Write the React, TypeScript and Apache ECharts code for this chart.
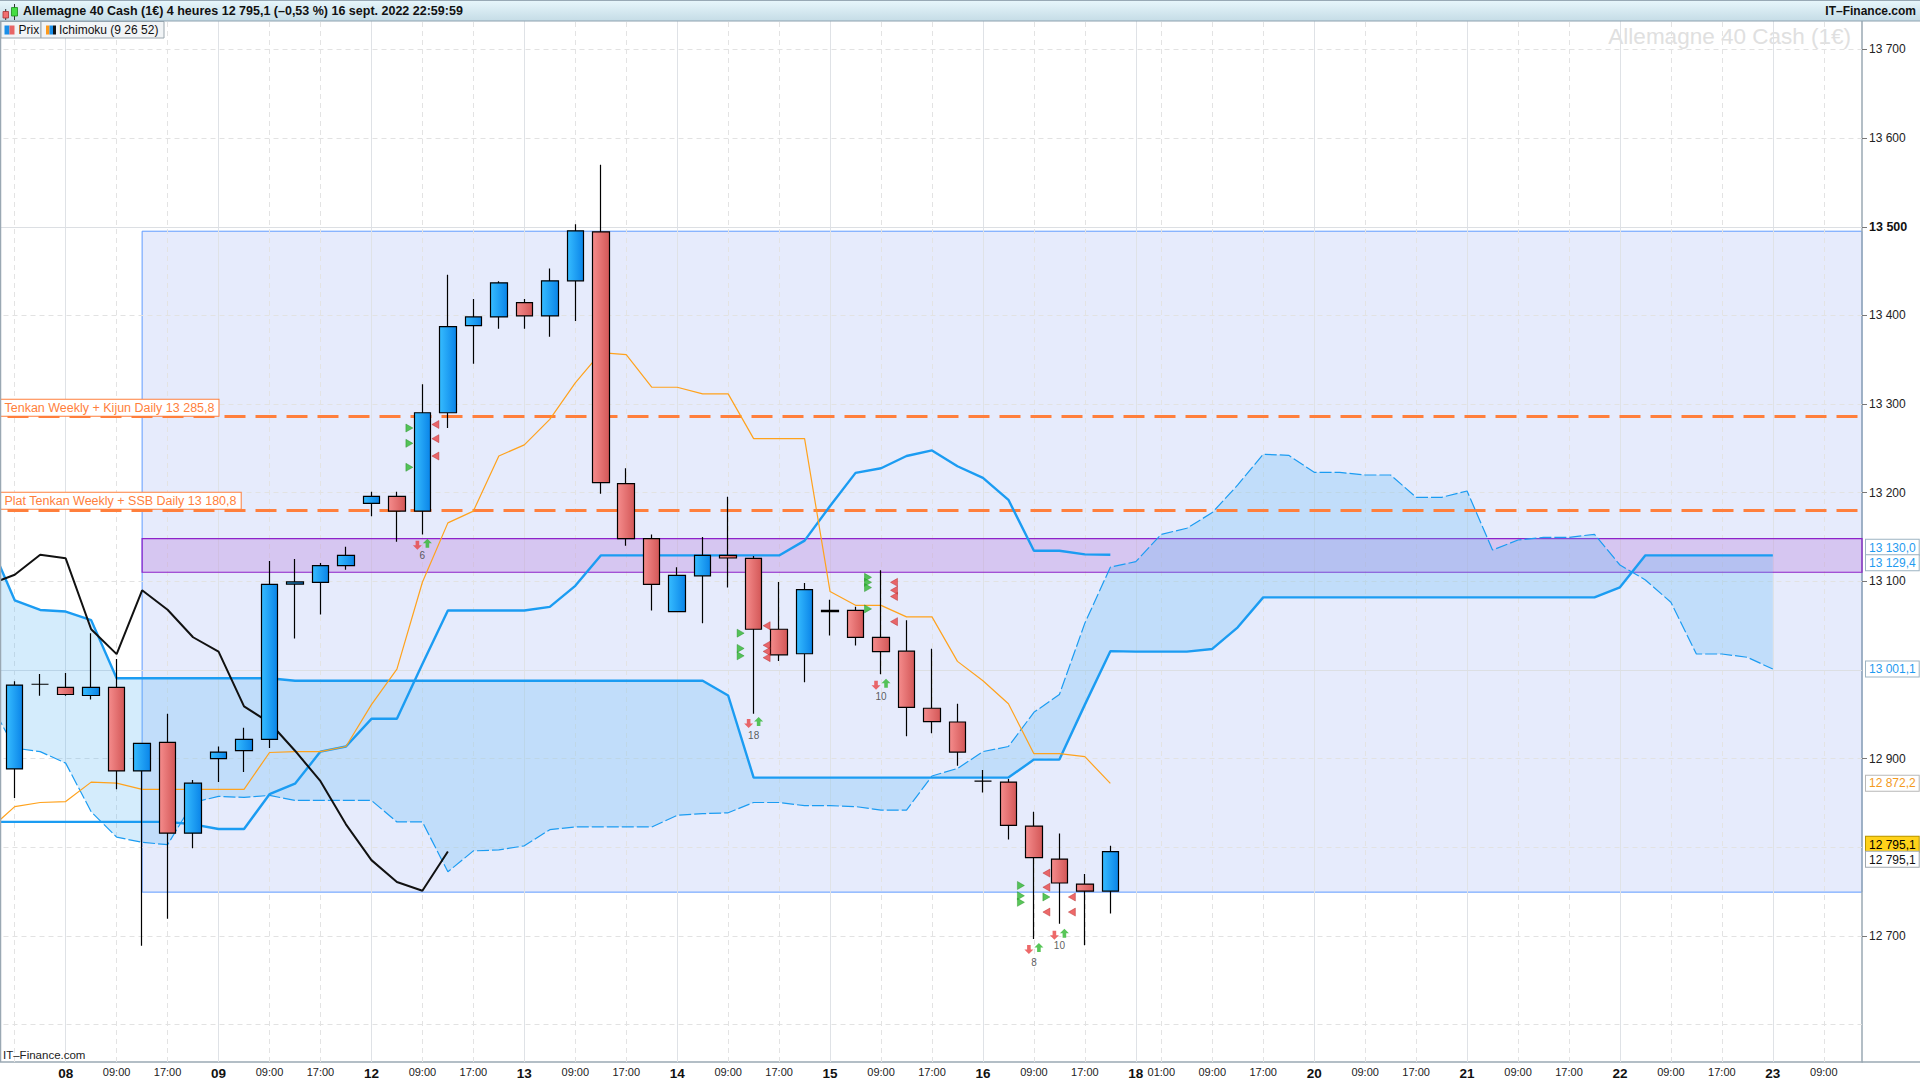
import React, { useEffect, useRef } from 'react';
import * as echarts from 'echarts';

const FONT = '"Liberation Sans", Arial, Helvetica, sans-serif';

// ---- axes -------------------------------------------------------------
// 4-hour bar slots, from -1 (just left of the frame) to 72 (right edge)
const FIRST_IDX = -1;
const LAST_IDX = 72;
const X_LABELS: [number, string][] = [
  [2, '08'], [4, '09:00'], [6, '17:00'], [8, '09'], [10, '09:00'], [12, '17:00'],
  [14, '12'], [16, '09:00'], [18, '17:00'], [20, '13'], [22, '09:00'], [24, '17:00'],
  [26, '14'], [28, '09:00'], [30, '17:00'], [32, '15'], [34, '09:00'], [36, '17:00'],
  [38, '16'], [40, '09:00'], [42, '17:00'], [44, '18'], [45, '01:00'], [47, '09:00'],
  [49, '17:00'], [51, '20'], [53, '09:00'], [55, '17:00'], [57, '21'], [59, '09:00'],
  [61, '17:00'], [63, '22'], [65, '09:00'], [67, '17:00'], [69, '23'], [71, '09:00'],
];
const DAY_LABELS = ['08', '09', '12', '13', '14', '15', '16', '18', '20', '21', '22', '23'];
const EXTRA_DASHED_SLOTS = [0];

const Y_MIN = 12557.9;
const Y_MAX = 13732.1;
const Y_LABELS = [12700, 12900, 13100, 13200, 13300, 13400, 13500, 13600, 13700];
const Y_GRID = [12600, 12700, 12800, 12900, 13000, 13100, 13200, 13300, 13400, 13500, 13600, 13700];
const Y_GRID_SOLID = [13000, 13500];

// ---- candles (slots 0..43) --------------------------------------------
const OPEN = [12888.5, 12984, 12980.5, 12971.3, 12980.5, 12886.2, 12918.4, 12816, 12900, 12909.2,
  12921.8, 13097, 13098.9, 13117.8, 13188, 13196, 13179.3, 13290.2, 13388.5, 13398.3,
  13414.4, 13399.4, 13439, 13494.3, 13210.3, 13148.3, 13066, 13106.3, 13129.3, 13125.9,
  13046, 13018.4, 13066, 13067.2, 13036.8, 13021.3, 12956.9, 12941.4, 12874.7, 12873.6,
  12824, 12786.8, 12758.6, 12750.6];
const CLOSE = [12983, 12984, 12972.4, 12980.5, 12886.2, 12917.2, 12816, 12872.4, 12907.5, 12921.8,
  13096.6, 13099.4, 13117.8, 13129.3, 13196, 13179.3, 13290.2, 13387.4, 13398.3, 13436.8,
  13399.4, 13439, 13495.4, 13211.5, 13148.3, 13096.6, 13106.9, 13129.3, 13126.4, 13046,
  13017.2, 13090.8, 13067.2, 13036.8, 13020.7, 12958, 12941.9, 12907.5, 12874.7, 12824.7,
  12788.5, 12759.8, 12750.6, 12795.1];
const LOW = [12855.8, 12971, 12971, 12966.7, 12865.5, 12689, 12719.5, 12798.9, 12873.6, 12885,
  12912, 13035.6, 13062.6, 13113, 13173.6, 13144.8, 13152.9, 13273, 13345.4, 13385,
  13385, 13375.9, 13393.7, 13198.9, 13140.2, 13067.2, 13066, 13052.9, 13093, 12950.6,
  13010.3, 12986.2, 13039, 13027.6, 12995.4, 12925.3, 12928.7, 12892, 12862, 12809,
  12696.6, 12713.8, 12689.7, 12725.3];
const HIGH = [12987.4, 12995.5, 12996.6, 13041.4, 13012.6, 12918, 12950.6, 12875.9, 12913.8, 12935,
  13123, 13125.3, 13120.7, 13139, 13201, 13201, 13322.4, 13446, 13418.4, 13438.5,
  13418.4, 13452.9, 13502.9, 13570, 13227.6, 13152.9, 13116, 13150, 13195.4, 13128.7,
  13099.4, 13098.3, 13079.3, 13071.3, 13112.6, 13056.3, 13024.1, 12962, 12887.4, 12877,
  12840.2, 12815.5, 12770, 12801.7];

// ---- Ichimoku (9 26 52), from slot -1 ----------------------------------
const TENKAN = [12820, 12846, 12850.6, 12851.7, 12873.6, 12872.4, 12865.5, 12865.5, 12865.5, 12865.5,
  12865.5, 12907, 12908, 12908, 12913.8, 12961, 13001, 13099, 13166, 13179.3,
  13241.4, 13254, 13282.8, 13324, 13358, 13355.7, 13319, 13319, 13311.5, 13311.5,
  13261, 13261, 13261, 13088.5, 13073, 13073, 13060, 13060, 13009.8, 12988,
  12962, 12905.7, 12905.7, 12902.3, 12872.2];
const KIJUN = [12828.7, 12828.7, 12828.7, 12828.7, 12828.7, 12828.7, 12828.7, 12828.7, 12826, 12820.7,
  12820.7, 12860, 12871.8, 12908, 12913.8, 12945, 12945, 13006.9, 13067.2, 13067.2,
  13067.2, 13067.2, 13071.3, 13095, 13129.3, 13129.3, 13129.3, 13129.3, 13129.3, 13129.3,
  13129.3, 13129.3, 13146, 13185, 13222.4, 13227.6, 13241.4, 13247.7, 13229.9, 13216.7,
  13192, 13134.5, 13134.5, 13130.5, 13130];
const CHIKOU = [13096.6, 13107.5, 13130, 13126, 13046, 13018, 13090, 13068, 13037, 13020.7,
  12959, 12940.8, 12909, 12874.7, 12826, 12785.6, 12761, 12751, 12795.4];
const SPAN_A = [12965, 12912, 12908, 12895, 12840.2, 12811.5, 12805.7, 12803, 12850.6, 12857.5,
  12856.3, 12858.6, 12852.9, 12852.9, 12852.9, 12852.9, 12828.7, 12828.7, 12772.4, 12796,
  12797.1, 12801.7, 12820, 12823, 12823, 12823, 12823, 12836.2, 12838, 12839,
  12850.6, 12850.6, 12847, 12847, 12846, 12842, 12842, 12880.5, 12889, 12908,
  12913.8, 12952.3, 12972.4, 13052.9, 13116, 13122.3, 13153.1, 13159.9, 13177.6, 13208.8,
  13243.4, 13242.2, 13223, 13223, 13220, 13220, 13194.8, 13194.8, 13202, 13135.4,
  13146.7, 13149.7, 13149.7, 13153.1, 13118.5, 13101.6, 13076.4, 13018.1, 13018.1, 13014.4,
  13001.1];
const SPAN_B = [13145, 13078.7, 13067.8, 13066, 13056.3, 12990.8, 12990.8, 12990.8, 12990.8, 12990.8,
  12990.8, 12990.8, 12988, 12988, 12988, 12988, 12988, 12988, 12988, 12988,
  12988, 12988, 12988, 12988, 12988, 12988, 12988, 12988, 12988, 12971.3,
  12878.7, 12878.7, 12878.7, 12878.7, 12878.7, 12878.7, 12878.7, 12878.7, 12878.7, 12878.7,
  12878.7, 12899, 12899, 12961, 13021.3, 13020.8, 13020.8, 13020.8, 13023.8, 13048.2,
  13082, 13082, 13082, 13082, 13082, 13082, 13082, 13082, 13082, 13082,
  13082, 13082, 13082, 13082, 13093.3, 13129.4, 13129.4, 13129.4, 13129.4, 13129.4,
  13129.4];

// ---- drawings ----------------------------------------------------------
const ZONE_START = 5;
const ZONE_TOP = 13495;
const ZONE_BOTTOM = 12749.5;
const BAND_TOP = 13148.3;
const BAND_BOTTOM = 13110.3;
const LEVELS = [13285.8, 13180.8];
const LEVEL_NAMES = ['Tenkan Weekly + Kijun Daily', 'Plat Tenkan Weekly + SSB Daily'];

// ---- signals [slot, value] ---------------------------------------------
const GREEN_LEFT: [number, number][] = [[16, 13273], [16, 13255.7], [16, 13228.7], [29, 13041.6], [29, 13024.4],
  [29, 13016], [34, 13104.6], [34, 13098.9], [34, 13093], [34, 13069], [40, 12757], [40, 12745.4],
  [40, 12738], [41, 12744]];
const RED_RIGHT: [number, number][] = [[16, 13277], [16, 13261], [16, 13241.4], [29, 13050], [29, 13028],
  [29, 13021], [29, 13014], [34, 13098.9], [34, 13090], [34, 13083], [34, 13054.6]];
const RED_LEFT: [number, number][] = [[41, 12771], [41, 12755], [41, 12727], [42, 12744], [42, 12727]];
const ARROWS: [number, number][] = [[16, 13142], [29, 12940.8], [34, 12984], [40, 12686], [41, 12702]];
const COUNTS: [number, number, string][] = [[16, 13128.7, '6'], [29, 12926, '18'], [34, 12970.7, '10'],
  [40, 12670, '8'], [41, 12689, '10']];

// ---- right-hand value tags ----------------------------------------------
const TAG_VALUES = [13130.0, 13129.4, 13001.1, 12872.2, 12795.1, 12795.1];
const TAG_STYLES = [
  { color: '#1f9bf0', bg: '#ffffff', border: '#9db3c2', va: 'bottom' },
  { color: '#1f9bf0', bg: '#ffffff', border: '#9db3c2', va: 'top' },
  { color: '#1f9bf0', bg: '#ffffff', border: '#9db3c2', va: 'middle' },
  { color: '#f39a1e', bg: '#ffffff', border: '#b8b8b8', va: 'middle' },
  { color: '#000000', bg: '#ffd21a', border: '#b89500', va: 'bottom' },
  { color: '#111111', bg: '#ffffff', border: '#a0a8ae', va: 'top' },
];

const ci = (idx: number) => idx - FIRST_IDX;
const CATS = Array.from({ length: LAST_IDX - FIRST_IDX + 1 }, (_, k) => String(k + FIRST_IDX));

function fmt(v: number, d: number): string {
  const s = v.toFixed(d);
  const [i, f] = s.split('.');
  const ii = i.replace(/\B(?=(\d{3})+(?!\d))/g, ' ');
  return f !== undefined ? ii + ',' + f : ii;
}

function buildOption(): any {
  const labelMap: Record<number, string> = {};
  X_LABELS.forEach(([i, t]) => (labelMap[i] = t));

  const vLines: any[] = [];
  X_LABELS.forEach(([i, t]) => {
    const day = DAY_LABELS.includes(t);
    vLines.push({
      xAxis: ci(i),
      lineStyle: day
        ? { color: '#dfe2e6', width: 1, type: 'solid' }
        : { color: '#e3e3e3', width: 1, type: [5, 4] },
    });
  });
  EXTRA_DASHED_SLOTS.forEach((i) =>
    vLines.push({ xAxis: ci(i), lineStyle: { color: '#e3e3e3', width: 1, type: [5, 4] } })
  );
  const hLines = Y_GRID.map((v) => ({
    yAxis: v,
    lineStyle: Y_GRID_SOLID.includes(v)
      ? { color: '#dcdfe3', width: 1, type: 'solid' }
      : { color: '#e2e2e2', width: 1, type: [5, 4] },
  }));

  const candleData: any[] = ['-'];
  OPEN.forEach((o, i) => candleData.push([o, CLOSE[i], LOW[i], HIGH[i]]));

  const upGrad = new echarts.graphic.LinearGradient(0, 0, 1, 0, [
    { offset: 0, color: '#36bcff' },
    { offset: 1, color: '#0a84e8' },
  ]);
  const downGrad = new echarts.graphic.LinearGradient(0, 0, 1, 0, [
    { offset: 0, color: '#f58c8c' },
    { offset: 1, color: '#d35757' },
  ]);

  const xy = (arr: [number, number][]) => arr.map(([i, v]) => [ci(i), v]);

  const series: any[] = [
    {
      type: 'custom',
      name: 'zone',
      z: 0,
      silent: true,
      clip: true,
      data: [[ci(ZONE_START), ZONE_TOP]],
      renderItem: (params: any, api: any) => {
        const cs = params.coordSys;
        const p1 = api.coord([ci(ZONE_START), ZONE_TOP]);
        const p2 = api.coord([ci(ZONE_START), ZONE_BOTTOM]);
        return {
          type: 'rect',
          shape: { x: p1[0], y: p1[1], width: cs.x + cs.width - p1[0], height: p2[1] - p1[1] },
          style: { fill: 'rgba(120,150,240,0.19)', stroke: '#5f9bff', lineWidth: 1 },
        };
      },
      markLine: {
        z: 1,
        silent: true,
        symbol: ['none', 'none'],
        label: { show: false },
        animation: false,
        data: [...vLines, ...hLines],
      },
    },
    {
      type: 'custom',
      name: 'band',
      z: 2,
      silent: true,
      clip: true,
      data: [[ci(ZONE_START), BAND_TOP]],
      renderItem: (params: any, api: any) => {
        const cs = params.coordSys;
        const p1 = api.coord([ci(ZONE_START), BAND_TOP]);
        const p2 = api.coord([ci(ZONE_START), BAND_BOTTOM]);
        return {
          type: 'rect',
          shape: { x: p1[0], y: p1[1], width: cs.x + cs.width - p1[0], height: p2[1] - p1[1] },
          style: { fill: 'rgba(179,122,219,0.32)', stroke: '#8e22c9', lineWidth: 1.2 },
        };
      },
    },
    {
      type: 'custom',
      name: 'kumo',
      z: 3,
      silent: true,
      clip: true,
      data: [[0, SPAN_A[0]]],
      renderItem: (params: any, api: any) => {
        const pts: number[][] = [];
        for (let i = 0; i < SPAN_A.length; i++) pts.push(api.coord([i, SPAN_A[i]]));
        for (let i = SPAN_B.length - 1; i >= 0; i--) pts.push(api.coord([i, SPAN_B[i]]));
        return { type: 'polygon', shape: { points: pts }, style: { fill: 'rgba(90,180,245,0.26)' } };
      },
    },
    {
      type: 'line', name: 'SSB', z: 4, data: SPAN_B, symbol: 'none', silent: true,
      lineStyle: { color: '#1b9cf2', width: 2.4 },
    },
    {
      type: 'line', name: 'SSA', z: 4, data: SPAN_A, symbol: 'none', silent: true,
      lineStyle: { color: '#1b9cf2', width: 1.2, type: [12, 3] },
    },
    {
      type: 'line', name: 'Kijun', z: 4, data: KIJUN, symbol: 'none', silent: true,
      lineStyle: { color: '#1b9cf2', width: 2.4 },
    },
    {
      type: 'line', name: 'Tenkan', z: 4, data: TENKAN, symbol: 'none', silent: true,
      lineStyle: { color: '#ffa21c', width: 1.2 },
      markLine: {
        z: 4,
        silent: true,
        symbol: ['none', 'none'],
        animation: false,
        lineStyle: { color: '#ff7f3c', width: 3, type: [21, 10] },
        label: {
          show: true,
          position: 'insideStartTop',
          distance: [24, 1],
          color: '#ff7f3c',
          fontSize: 12.5,
          fontFamily: FONT,
          backgroundColor: '#ffffff',
          borderColor: '#ff7f3c',
          borderWidth: 1,
          padding: [2, 4, 1, 4],
        },
        data: LEVELS.map((v, k) => ({
          yAxis: v,
          label: { formatter: LEVEL_NAMES[k] + ' ' + fmt(v, 1) },
        })),
      },
    },
    {
      type: 'line', name: 'Chikou', z: 4, data: CHIKOU, symbol: 'none', silent: true,
      lineStyle: { color: '#111111', width: 2 },
    },
    {
      type: 'candlestick',
      name: 'Prix',
      z: 5,
      silent: true,
      barWidth: 17,
      data: candleData,
      itemStyle: {
        color: upGrad,
        color0: downGrad,
        borderColor: '#000000',
        borderColor0: '#000000',
        borderColorDoji: '#000000',
        borderWidth: 1.2,
      },
    },
    {
      type: 'line',
      name: 'tags',
      z: 7,
      clip: false,
      silent: true,
      symbol: 'none',
      data: [],
      markLine: {
        z: 7,
        silent: true,
        symbol: ['none', 'none'],
        animation: false,
        lineStyle: { color: 'rgba(255,255,255,0)', width: 1, opacity: 1 },
        data: TAG_VALUES.map((v, k) => ({
          yAxis: v,
          label: {
            show: true,
            position: 'end',
            distance: 4,
            opacity: 1,
            formatter: fmt(v, 1),
            color: TAG_STYLES[k].color,
            backgroundColor: TAG_STYLES[k].bg,
            borderColor: TAG_STYLES[k].border,
            borderWidth: 1,
            padding: [2, 3, 1, 3],
            fontSize: 12,
            fontFamily: FONT,
            verticalAlign: TAG_STYLES[k].va,
          },
        })),
      },
    },
    {
      type: 'scatter', z: 6, silent: true, data: xy(GREEN_LEFT),
      symbol: 'path://M0,0L8,4.5L0,9Z', symbolSize: [7, 8], symbolOffset: [-13, 0],
      itemStyle: { color: '#2eb82e', borderColor: '#1b8a1b', borderWidth: 0.5 },
    },
    {
      type: 'scatter', z: 6, silent: true, data: xy(RED_RIGHT),
      symbol: 'path://M8,0L0,4.5L8,9Z', symbolSize: [7, 8], symbolOffset: [13, 0],
      itemStyle: { color: '#e84444', borderColor: '#b02020', borderWidth: 0.5 },
    },
    {
      type: 'scatter', z: 6, silent: true, data: xy(RED_LEFT),
      symbol: 'path://M8,0L0,4.5L8,9Z', symbolSize: [7, 8], symbolOffset: [-13, 0],
      itemStyle: { color: '#e84444', borderColor: '#b02020', borderWidth: 0.5 },
    },
    {
      type: 'scatter', z: 6, silent: true, data: xy(ARROWS),
      symbol: 'path://M3,0H7V5H10L5,10L0,5H3Z', symbolSize: [9, 9], symbolOffset: [-5, 1],
      itemStyle: { color: '#e84444' },
    },
    {
      type: 'scatter', z: 6, silent: true, data: xy(ARROWS),
      symbol: 'path://M5,0L10,5H7V10H3V5H0Z', symbolSize: [9, 9], symbolOffset: [5, -1],
      itemStyle: { color: '#2eb82e' },
    },
    {
      type: 'scatter', z: 6, silent: true,
      data: COUNTS.map(([i, v, t]) => [ci(i), v, t]),
      symbolSize: 0,
      label: {
        show: true,
        position: 'inside',
        formatter: (p: any) => p.data[2],
        color: '#333333',
        fontSize: 10,
        fontFamily: FONT,
      },
    },
  ];

  const graphic: any[] = [
    // header bar
    {
      type: 'rect', z: 100, silent: true,
      shape: { x: 0, y: 0, width: 1920, height: 21 },
      style: {
        fill: new echarts.graphic.LinearGradient(0, 0, 0, 1, [
          { offset: 0, color: '#e8f7fc' },
          { offset: 1, color: '#c5dce6' },
        ]),
      },
    },
    { type: 'line', z: 101, silent: true, shape: { x1: 0, y1: 0.5, x2: 1920, y2: 0.5 }, style: { stroke: '#98a9b5', lineWidth: 1 } },
    { type: 'line', z: 101, silent: true, shape: { x1: 0, y1: 21, x2: 1920, y2: 21 }, style: { stroke: '#8ea2b0', lineWidth: 1.2 } },
    // candle icon
    { type: 'line', z: 101, silent: true, shape: { x1: 5.7, y1: 9, x2: 5.7, y2: 20 }, style: { stroke: '#333', lineWidth: 1 } },
    { type: 'rect', z: 102, silent: true, shape: { x: 3, y: 11.5, width: 5.5, height: 6.5 }, style: { fill: '#f07070', stroke: '#a33', lineWidth: 0.8 } },
    { type: 'line', z: 101, silent: true, shape: { x1: 14.5, y1: 4, x2: 14.5, y2: 20 }, style: { stroke: '#333', lineWidth: 1 } },
    { type: 'rect', z: 102, silent: true, shape: { x: 11.5, y: 7.5, width: 6, height: 8.5 }, style: { fill: '#44dd44', stroke: '#1a8a1a', lineWidth: 0.8 } },
    {
      type: 'text', z: 101, silent: true, x: 23, y: 11,
      style: {
        text: 'Allemagne 40 Cash (1€) 4 heures 12 795,1 (–0,53 %) 16 sept. 2022 22:59:59',
        font: 'bold 12.5px ' + FONT, fill: '#111', verticalAlign: 'middle', align: 'left',
      },
    },
    {
      type: 'text', z: 101, silent: true, x: 1916, y: 11,
      style: { text: 'IT–Finance.com', font: 'bold 12px ' + FONT, fill: '#111', verticalAlign: 'middle', align: 'right' },
    },
    // legend boxes
    { type: 'rect', z: 100, silent: true, shape: { x: 1, y: 21.5, width: 40, height: 16.5 }, style: { fill: '#f1f4f6', stroke: '#9aa6ae', lineWidth: 1 } },
    { type: 'rect', z: 101, silent: true, shape: { x: 4.5, y: 25.5, width: 5, height: 9 }, style: { fill: '#1a8fe8' } },
    { type: 'rect', z: 101, silent: true, shape: { x: 9.5, y: 25.5, width: 5, height: 9 }, style: { fill: '#e86464' } },
    {
      type: 'text', z: 101, silent: true, x: 18.5, y: 30,
      style: { text: 'Prix', font: '12px ' + FONT, fill: '#111', verticalAlign: 'middle' },
    },
    { type: 'rect', z: 100, silent: true, shape: { x: 41, y: 21.5, width: 123, height: 16.5 }, style: { fill: '#f1f4f6', stroke: '#9aa6ae', lineWidth: 1 } },
    { type: 'rect', z: 101, silent: true, shape: { x: 46, y: 25.5, width: 3.5, height: 9 }, style: { fill: '#ff9a1a' } },
    { type: 'rect', z: 101, silent: true, shape: { x: 49.5, y: 25.5, width: 3.5, height: 9 }, style: { fill: '#1a8fe8' } },
    { type: 'rect', z: 101, silent: true, shape: { x: 53, y: 25.5, width: 3, height: 9 }, style: { fill: '#111' } },
    {
      type: 'text', z: 101, silent: true, x: 59, y: 30,
      style: { text: 'Ichimoku (9 26 52)', font: '12px ' + FONT, fill: '#111', verticalAlign: 'middle' },
    },
    // watermark
    {
      type: 'text', z: 0, silent: true, x: 1851, y: 36,
      style: { text: 'Allemagne 40 Cash (1€)', font: '22.5px ' + FONT, fill: '#e0e0e0', align: 'right', verticalAlign: 'middle' },
    },
    // frame lines
    { type: 'line', z: 50, silent: true, shape: { x1: 0.5, y1: 21, x2: 0.5, y2: 1062 }, style: { stroke: '#9aa8b3', lineWidth: 1.5 } },
    { type: 'line', z: 50, silent: true, shape: { x1: 1862, y1: 1062, x2: 1920, y2: 1062 }, style: { stroke: '#9aa8b3', lineWidth: 1.5 } },
    {
      type: 'text', z: 50, silent: true, x: 3, y: 1055,
      style: { text: 'IT–Finance.com', font: '11.5px ' + FONT, fill: '#222', verticalAlign: 'middle' },
    },
  ];

  return {
    animation: false,
    backgroundColor: '#ffffff',
    textStyle: { fontFamily: FONT },
    grid: { left: -23.5, right: 58, top: 21, bottom: 18, containLabel: false, outerBoundsMode: 'none' },
    xAxis: {
      type: 'category',
      data: CATS,
      boundaryGap: true,
      axisLine: { show: true, lineStyle: { color: '#9aa8b3', width: 1.5 } },
      axisTick: { show: false },
      splitLine: { show: false },
      axisLabel: {
        interval: 0,
        margin: 4,
        hideOverlap: false,
        formatter: (v: string) => {
          const t = labelMap[Number(v)];
          if (!t) return '';
          return DAY_LABELS.includes(t) ? '{d|' + t + '}' : '{t|' + t + '}';
        },
        rich: {
          d: { fontWeight: 'bold', fontSize: 13.5, color: '#111', fontFamily: FONT },
          t: { fontSize: 11, color: '#222', fontFamily: FONT },
        },
      },
    },
    yAxis: {
      type: 'value',
      position: 'right',
      min: Y_MIN,
      max: Y_MAX,
      scale: true,
      axisLine: { show: true, lineStyle: { color: '#9aa8b3', width: 1.5 } },
      axisTick: { show: true, length: 5, customValues: Y_LABELS, lineStyle: { color: '#777' } },
      splitLine: { show: false },
      axisLabel: {
        customValues: Y_LABELS,
        margin: 7,
        fontSize: 12,
        color: '#222',
        fontFamily: FONT,
        formatter: (v: number) => (v === 13500 ? '{b|' + fmt(v, 0) + '}' : fmt(v, 0)),
        rich: { b: { fontWeight: 'bold', fontSize: 12.5, color: '#111', fontFamily: FONT } },
      },
    },
    series,
    graphic,
  };
}

export default function App() {
  const ref = useRef<HTMLDivElement>(null);
  useEffect(() => {
    document.body.style.margin = '0';
    const chart = echarts.init(ref.current as HTMLDivElement, null, { renderer: 'svg' });
    chart.setOption(buildOption());
    return () => chart.dispose();
  }, []);
  return <div ref={ref} style={{ width: 1920, height: 1080, background: '#fff' }} />;
}
